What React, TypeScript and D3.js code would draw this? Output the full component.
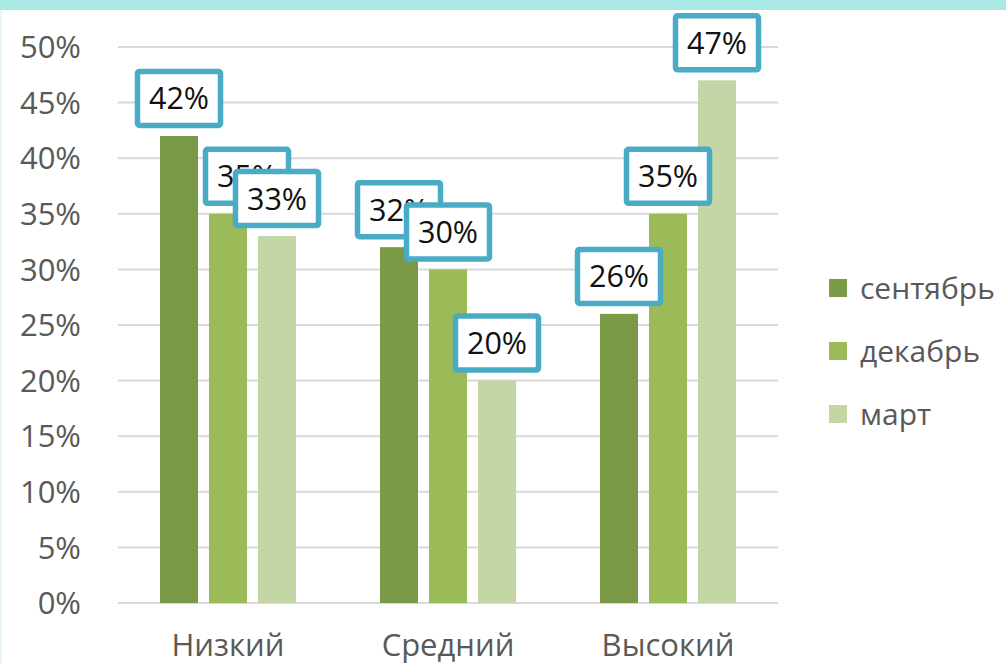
import React, { useEffect } from "react";
import * as d3 from "d3";

const categories = ["Низкий", "Средний", "Высокий"];
const seriesNames = ["сентябрь", "декабрь", "март"];
const september = [42, 32, 26];
const december = [35, 30, 35];
const march = [33, 20, 47];
const yTicks = [0, 5, 10, 15, 20, 25, 30, 35, 40, 45, 50];

const seriesValues = [september, december, march];
const colors = ["#7a9a48", "#9bbb59", "#c4d6a6"];

const W = 1006;
const H = 664;
const FONT = "'Open Sans', Lato, sans-serif";

export default function App() {
  useEffect(() => {
    document.body.style.margin = "0";
  }, []);

  const x = d3.scaleBand<string>().domain(categories).range([118, 778]).paddingInner(0).paddingOuter(0);
  const y = d3.scaleLinear().domain([0, 50]).range([603, 47]);
  const barW = 38;
  const step = 49;
  const barX = (ci: number, si: number) =>
    (x(categories[ci]) as number) + x.bandwidth() / 2 + (si - 1) * step - barW / 2;

  // label box horizontal nudges (layout only)
  const labelDx = (ci: number, si: number) => (ci === 0 && si === 1 ? 19 : 0);

  const labels: { cx: number; yTop: number; text: string }[] = [];
  categories.forEach((_, ci) => {
    seriesNames.forEach((_, si) => {
      const v = seriesValues[si][ci];
      labels.push({ cx: barX(ci, si) + barW / 2 + labelDx(ci, si), yTop: y(v), text: `${v}%` });
    });
  });

  return (
    <svg width={W} height={H} style={{ display: "block", background: "#ffffff" }} fontFamily={FONT}>
      <rect x={0} y={0} width={W} height={10} fill="#a8e9e6" />
      <rect x={0} y={10} width={2} height={H - 10} fill="#e6f7f7" />
      {yTicks.map((t) => (
        <g key={t}>
          <line x1={118} x2={778} y1={y(t)} y2={y(t)} stroke="#d9d9d9" strokeWidth={2} />
          <text x={81} y={y(t)} dy="0.36em" textAnchor="end" fontSize={31} fill="#595959">
            {`${t}%`}
          </text>
        </g>
      ))}
      {seriesNames.map((s, si) =>
        categories.map((c, ci) => {
          const v = seriesValues[si][ci];
          return (
            <rect
              key={`${s}-${c}`}
              x={barX(ci, si)}
              y={y(v)}
              width={barW}
              height={y(0) - y(v)}
              fill={colors[si]}
            />
          );
        })
      )}
      {categories.map((c) => (
        <text
          key={c}
          x={(x(c) as number) + x.bandwidth() / 2}
          y={656}
          textAnchor="middle"
          fontSize={31}
          fill="#595959"
        >
          {c}
        </text>
      ))}
      {labels.map((l, i) => (
        <g key={i}>
          <rect
            x={l.cx - 41.5}
            y={l.yTop - 8 - 56.5}
            width={83}
            height={54}
            rx={2}
            fill="#ffffff"
            stroke="#4aabc5"
            strokeWidth={5.5}
          />
          <text x={l.cx} y={l.yTop - 8 - 29.5} dy="0.36em" textAnchor="middle" fontSize={30.5} fill="#111111">
            {l.text}
          </text>
        </g>
      ))}
      {seriesNames.map((s, si) => (
        <g key={s} transform={`translate(829, ${288 + si * 63})`}>
          <rect x={0} y={-9} width={18} height={18} fill={colors[si]} />
          <text x={31} y={0} dy="0.36em" fontSize={30} fill="#595959">
            {s}
          </text>
        </g>
      ))}
    </svg>
  );
}
